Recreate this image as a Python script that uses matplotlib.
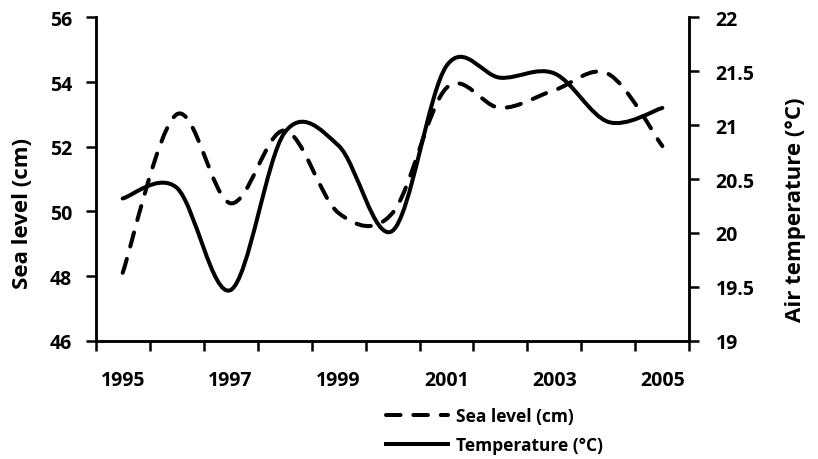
import numpy as np
import matplotlib
matplotlib.use("Agg")
import matplotlib.pyplot as plt
from matplotlib.path import Path
from matplotlib.patches import PathPatch
from matplotlib.lines import Line2D
from matplotlib.ticker import FuncFormatter

plt.rcParams['font.family'] = ['Open Sans', 'DejaVu Sans']
plt.rcParams['font.weight'] = 'bold'

years = [1995, 1996, 1997, 1998, 1999, 2000, 2001, 2002, 2003, 2004, 2005]
sea_level = [48.1, 53.0, 50.25, 52.5, 49.95, 49.95, 53.82, 53.2, 53.75, 54.25, 52.02]
temperature = [20.32, 20.42, 19.47, 20.93, 20.81, 20.02, 21.55, 21.44, 21.48, 21.03, 21.16]


def smooth_path(xs, ys):
    # excel style smoothed line: cubic bezier through every point
    xs = np.asarray(xs, float)
    ys = np.asarray(ys, float)
    n = len(xs)
    verts = [(xs[0], ys[0])]
    codes = [Path.MOVETO]
    for i in range(n - 1):
        p0 = max(i - 1, 0)
        p3 = min(i + 2, n - 1)
        c1 = (xs[i] + (xs[i + 1] - xs[p0]) / 6, ys[i] + (ys[i + 1] - ys[p0]) / 6)
        c2 = (xs[i + 1] - (xs[p3] - xs[i]) / 6, ys[i + 1] - (ys[p3] - ys[i]) / 6)
        verts += [c1, c2, (xs[i + 1], ys[i + 1])]
        codes += [Path.CURVE4] * 3
    return Path(verts, codes)


fig = plt.figure(figsize=(8.18, 4.6), dpi=100)
ax = fig.add_axes([0.117, 0.2572, 0.8427 - 0.117, 0.960 - 0.2572])
ax2 = ax.twinx()

x = np.arange(len(years))
lw = 2.9
dash = (0, (3.6, 3.2))

sea = PathPatch(smooth_path(x, sea_level), fill=False, edgecolor='black',
                linewidth=lw, linestyle=dash, capstyle='round')
ax.add_patch(sea)
temp = PathPatch(smooth_path(x, temperature), fill=False, edgecolor='black',
                 linewidth=lw, capstyle='round', joinstyle='round')
ax2.add_patch(temp)

ax.set_xlim(-0.5, len(years) - 0.5)
ax.set_ylim(46, 56)
ax2.set_ylim(19, 22)
ax.set_yticks(np.arange(46, 57, 2))
ax2.set_yticks(np.arange(19, 22.01, 0.5))
ax2.yaxis.set_major_formatter(FuncFormatter(lambda v, p: '%g' % v))

ax.set_xticks(x[::2])
ax.set_xticklabels([str(y) for y in years[::2]])
ax.set_xticks(np.arange(-0.5, len(years), 1), minor=True)
ax.tick_params(axis='x', which='major', length=0, pad=21, labelsize=14)
ax.tick_params(axis='x', which='minor', length=7, width=1.8)
ax.tick_params(axis='y', length=7, width=1.8, pad=10, labelsize=14)
ax2.tick_params(axis='y', length=7, width=1.8, pad=12, labelsize=14)

for a in (ax, ax2):
    a.spines['top'].set_visible(False)
    for s in ('left', 'right', 'bottom'):
        a.spines[s].set_linewidth(1.8)

fig.text(0.027, 0.535, 'Sea level (cm)', rotation=90, ha='center', va='center',
         fontsize=16, fontweight='bold')
fig.text(0.973, 0.545, 'Air temperature (°C)', rotation=90, ha='center', va='center',
         fontsize=16, fontweight='bold')

handles = [Line2D([], [], color='black', lw=lw, linestyle=dash,
                  dash_capstyle='round'),
           Line2D([], [], color='black', lw=lw)]
fig.legend(handles, ['Sea level (cm)', 'Temperature (°C)'], loc='center left',
           bbox_to_anchor=(0.461, 0.062), frameon=False, fontsize=12.5,
           handlelength=3.6, handletextpad=0.45, labelspacing=0.6, borderpad=0)

fig.savefig('out.png', dpi=100)
